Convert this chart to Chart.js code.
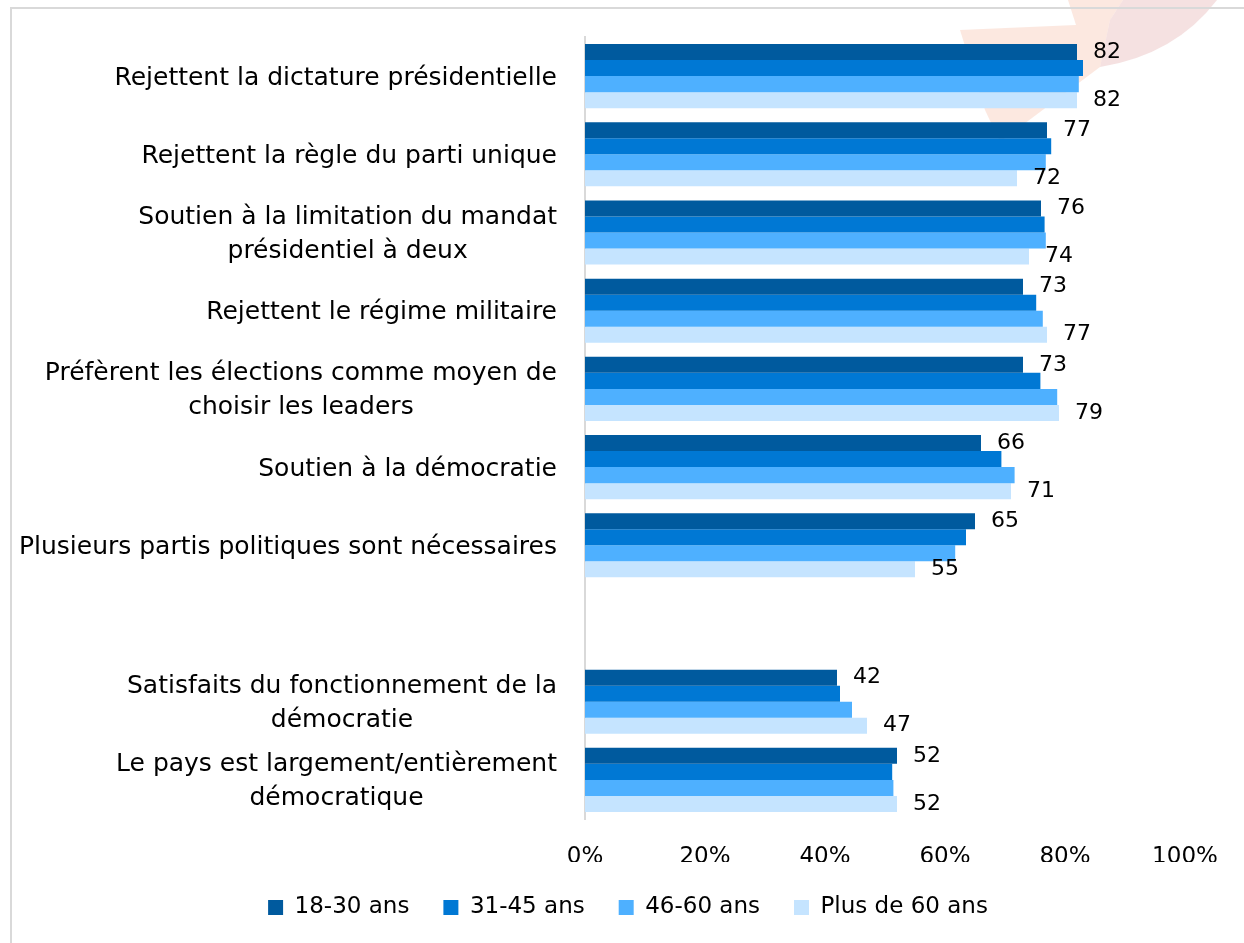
<!DOCTYPE html>
<html>
<head>
<meta charset="utf-8">
<script src="https://cdn.jsdelivr.net/npm/chart.js@4.4.0/dist/chart.umd.min.js"></script>
<style>
  html, body { margin: 0; padding: 0; background: #fff; }
  #cadre { width: 1244px; height: 943px; }
</style>
</head>
<body>
<div id="cadre"><canvas id="graficaAttitudes"></canvas></div>
<script>
// categories (the empty one leaves the gap between the two groups)
var categories = [
    "Rejettent la dictature présidentielle",
    "Rejettent la règle du parti unique",
    ["Soutien à la limitation du mandat", "présidentiel à deux"],
    "Rejettent le régime militaire",
    ["Préfèrent les élections comme moyen de", "choisir les leaders"],
    "Soutien à la démocratie",
    "Plusieurs partis politiques sont nécessaires",
    "",
    ["Satisfaits du fonctionnement de la", "démocratie"],
    ["Le pays est largement/entièrement", "démocratique"]
];
var tranches = ["18-30 ans", "31-45 ans", "46-60 ans", "Plus de 60 ans"];

// % par tranche d'age
var ans18_30 = [82, 77, 76, 73, 73, 66, 65, null, 42, 52];
var ans31_45 = [83, 77.7, 76.6, 75.2, 75.9, 69.4, 63.5, null, 42.5, 51.2];
var ans46_60 = [82.3, 76.8, 76.8, 76.3, 78.7, 71.6, 61.7, null, 44.5, 51.4];
var plus60   = [82, 72, 74, 77, 79, 71, 55, null, 47, 52];

var ticksX = [0, 20, 40, 60, 80, 100];

var couleurs = ['rgb(0, 90, 158)', 'rgb(0, 120, 212)', 'rgb(78, 176, 255)', 'rgb(197, 228, 255)'];
var police = "'DejaVu Sans', sans-serif";

// logo pale en haut a droite + cadre gris
var fond = {
    id: 'fond',
    beforeDraw: function(chart){
        var ctx = chart.ctx;
        ctx.save();
        ctx.fillStyle = 'rgba(250, 214, 198, 0.55)';
        ctx.beginPath();
        ctx.moveTo(1068, 0);
        ctx.lineTo(1123, 0);
        ctx.lineTo(1110, 20);
        ctx.lineTo(1100, 67);
        ctx.lineTo(1000, 142);
        ctx.lineTo(985, 110);
        ctx.lineTo(960, 30);
        ctx.lineTo(1076, 25);
        ctx.closePath();
        ctx.fill();
        ctx.fillStyle = 'rgba(236, 196, 196, 0.5)';
        ctx.beginPath();
        ctx.moveTo(1123, 0);
        ctx.lineTo(1217, 0);
        ctx.quadraticCurveTo(1175, 55, 1100, 67);
        ctx.lineTo(1110, 20);
        ctx.closePath();
        ctx.fill();
        ctx.strokeStyle = '#D9D9D9';
        ctx.lineWidth = 2;
        ctx.beginPath();
        ctx.moveTo(11, 943);
        ctx.lineTo(11, 8);
        ctx.lineTo(1244, 8);
        ctx.stroke();
        ctx.restore();
    }
};

// libelles des categories : bloc aligne a droite, lignes centrees entre elles
var libelles = {
    id: 'libelles',
    afterDraw: function(chart){
        var ctx = chart.ctx;
        var echelle = chart.scales.y;
        var droite = chart.chartArea.left - 28;
        var interligne = 34;
        ctx.save();
        ctx.font = "25px " + police;
        ctx.fillStyle = '#000';
        ctx.textBaseline = 'middle';
        ctx.textAlign = 'center';
        categories.forEach(function(lab, i){
            var lignes = Array.isArray(lab) ? lab : [lab];
            var large = 0;
            lignes.forEach(function(l){ large = Math.max(large, ctx.measureText(l).width); });
            var cx = droite - large / 2;
            var y = echelle.getPixelForTick(i) + 2;
            lignes.forEach(function(l, j){
                ctx.fillText(l, cx, y + (j - (lignes.length - 1) / 2) * interligne);
            });
        });
        ctx.restore();
    }
};

// valeurs affichees pour la premiere et la derniere serie
var valeurs = {
    id: 'valeurs',
    afterDatasetsDraw: function(chart){
        var ctx = chart.ctx;
        ctx.save();
        ctx.font = "22px " + police;
        ctx.fillStyle = '#000';
        ctx.textBaseline = 'middle';
        ctx.textAlign = 'left';
        [0, 3].forEach(function(d){
            var meta = chart.getDatasetMeta(d);
            var data = chart.data.datasets[d].data;
            meta.data.forEach(function(barre, i){
                if (data[i] == null) return;
                ctx.fillText(String(data[i]), barre.x + 16, barre.y);
            });
        });
        ctx.restore();
    }
};

function graficaAttitudes(){
    var canva = document.getElementById("graficaAttitudes").getContext("2d");
    var series = [ans18_30, ans31_45, ans46_60, plus60];
    chartA = new Chart(canva, {
        type: "bar",
        data: {
            labels: categories,
            datasets: series.map(function(s, k){
                return {
                    label: tranches[k],
                    data: s,
                    backgroundColor: couleurs[k],
                    borderWidth: 0,
                    categoryPercentage: 0.82,
                    barPercentage: 1.0
                };
            })
        },
        options: {
            indexAxis: 'y',
            responsive: true,
            maintainAspectRatio: false,
            animation: false,
            layout: { padding: { left: 12, top: 37, right: 0, bottom: 14 } },
            scales: {
                x: {
                    type: 'linear',
                    min: 0,
                    max: 100,
                    afterBuildTicks: function(s){ s.ticks = ticksX.map(function(v){ return { value: v }; }); },
                    afterFit: function(s){ s.height = 43; },
                    grid: { display: false, drawTicks: false },
                    border: { display: false },
                    ticks: {
                        padding: 24,
                        color: '#000',
                        font: { family: police, size: 23 },
                        callback: function(v){ return v + '%'; }
                    }
                },
                y: {
                    type: 'category',
                    grid: { display: false, drawTicks: false },
                    border: { color: '#D9D9D9', width: 2 },
                    ticks: { display: false },
                    afterFit: function(s){ s.width = 573; }
                },
                marge: {
                    type: 'linear',
                    position: 'right',
                    grid: { display: false, drawTicks: false },
                    border: { display: false },
                    ticks: { display: false },
                    afterFit: function(s){ s.width = 59; }
                }
            },
            plugins: {
                legend: {
                    position: 'bottom',
                    labels: {
                        boxWidth: 15,
                        boxHeight: 15,
                        padding: 34,
                        color: '#000',
                        font: { family: police, size: 23 }
                    }
                },
                tooltip: { enabled: false }
            }
        },
        plugins: [fond, libelles, valeurs]
    });
}

graficaAttitudes();
</script>
</body>
</html>
